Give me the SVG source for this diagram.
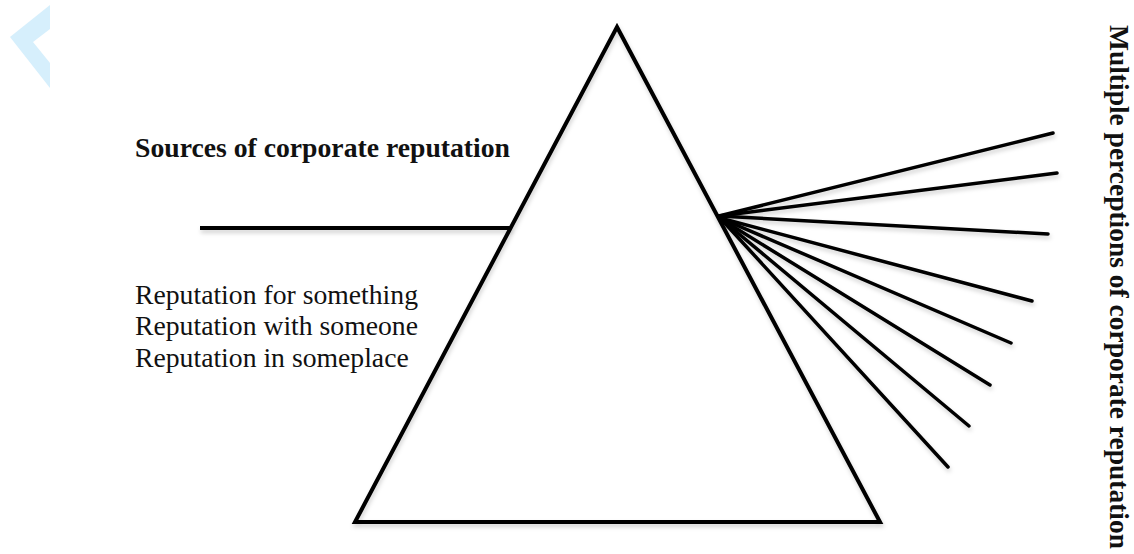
<svg xmlns="http://www.w3.org/2000/svg" width="1134" height="554" viewBox="0 0 1134 554">
<defs>
<filter id="sh" x="-10%" y="-10%" width="120%" height="120%">
<feDropShadow dx="1" dy="3" stdDeviation="2" flood-color="#000" flood-opacity="0.18"/>
</filter>
<style>
.ln{stroke:#000;stroke-width:4;fill:none;stroke-linecap:butt}
.ray{stroke:#000;stroke-width:3.5;fill:none;stroke-linecap:round}
.t{font-family:"Liberation Serif","Times New Roman",serif;font-size:27.7px;fill:#111}
.b{font-weight:bold}
</style>
</defs>
<rect width="1134" height="554" fill="#fff"/>
<g id="chevron">
<polygon points="50,5 10,37 50,88 50,63 33,42 50,29" fill="#d6effc"/>
</g>
<g id="prism" filter="url(#sh)">
<polygon class="ln" points="617,27 880,522 355,522" stroke-linejoin="miter"/>
</g>
<g id="connectors" filter="url(#sh)">
<line class="ln" x1="200" y1="228" x2="511" y2="228"/>
<g id="rays">
<line class="ray" x1="719" y1="216" x2="1053" y2="133"/>
<line class="ray" x1="719" y1="216" x2="1057" y2="173"/>
<line class="ray" x1="719" y1="216" x2="1048" y2="234"/>
<line class="ray" x1="720" y1="218" x2="1032" y2="301"/>
<line class="ray" x1="720" y1="218" x2="1011" y2="343"/>
<line class="ray" x1="721" y1="219" x2="990" y2="385"/>
<line class="ray" x1="721" y1="219" x2="969" y2="426"/>
<line class="ray" x1="722" y1="220" x2="948" y2="467"/>
</g>
</g>
<g id="sources-label">
<text class="t b" x="135" y="157">Sources of corporate reputation</text>
</g>
<g id="reputation-list">
<text class="t" x="135" y="304">Reputation for something</text>
<text class="t" x="135" y="335">Reputation with someone</text>
<text class="t" x="135" y="367">Reputation in someplace</text>
</g>
<g id="perceptions-label">
<text class="t b" transform="translate(1110,25) rotate(90)" textLength="524" lengthAdjust="spacingAndGlyphs">Multiple perceptions of corporate reputation</text>
</g>
</svg>
